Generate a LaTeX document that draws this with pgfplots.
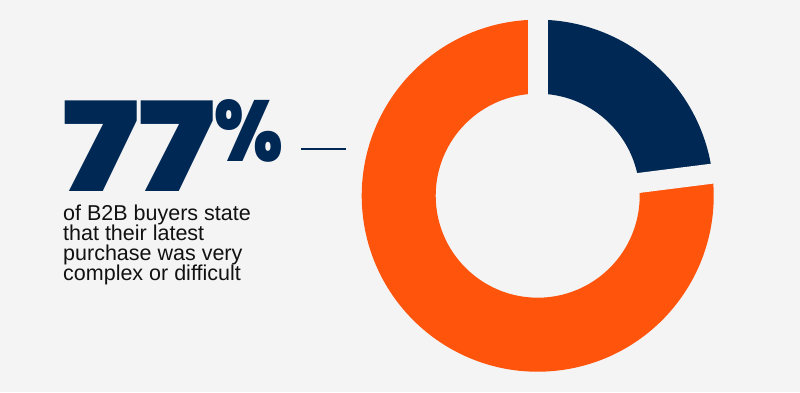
\documentclass[border=0pt]{standalone}
\usepackage{fontspec}
\setmainfont{Liberation Sans}
\newfontfamily\heavy{Poppins Black}
\usepackage{pgfplots}
\pgfplotsset{compat=1.18}
\usepackage{pgfplotstable}
\definecolor{bg}{HTML}{F4F4F4}
\definecolor{navy}{HTML}{002855}
\definecolor{orng}{HTML}{FF540B}
\definecolor{txt}{HTML}{111111}
\pgfplotstableread{
label value
Complex 77
Other 23
}\pietable
\begin{document}%
\begin{tikzpicture}
\pgfplotstablegetelem{0}{value}\of\pietable \let\valA\pgfplotsretval
\pgfplotstablegetelem{1}{value}\of\pietable \let\valB\pgfplotsretval
\pgfmathsetmacro\aB{90-3.6*\valB}
\pgfmathsetmacro\aEnd{\aB-3.6*\valA}
\begin{axis}[width=800pt,height=392pt,scale only axis,
  xmin=0,xmax=800,ymin=0,ymax=392,hide axis,clip=false]
\fill[bg] (axis cs:0,0) rectangle (axis cs:800,392);
\coordinate (C) at (axis cs:537.7,196.3);
% navy slice
\fill[navy] ([shift={(90:176pt)}]C) arc[start angle=90,end angle=\aB,radius=176pt]
  -- ([shift={(\aB:102pt)}]C) arc[start angle=\aB,end angle=90,radius=102pt] -- cycle;
% orange slice
\fill[orng] ([shift={(\aB:176pt)}]C) arc[start angle=\aB,end angle=\aEnd,radius=176pt]
  -- ([shift={(\aEnd:102pt)}]C) arc[start angle=\aEnd,end angle=\aB,radius=102pt] -- cycle;
% gaps
\draw[bg,line width=20pt] (C) -- ([shift={(90:185pt)}]C);
\draw[bg,line width=20pt] (C) -- ([shift={(\aB:185pt)}]C);
% connector
\draw[navy,line width=1.8pt] (axis cs:301,243) -- (axis cs:346,243);
% text
\node[anchor=base west,inner sep=0,text=navy,font=\heavy\fontsize{124}{124}\selectfont] at (axis cs:62,200.3) {\scalebox{1.2}[1]{77}};
\node[anchor=base west,inner sep=0,text=navy,font=\heavy\fontsize{86}{86}\selectfont] at (axis cs:214,230.3) {\scalebox{0.85}[1]{\%}};
\node[anchor=base west,inner sep=0,text=txt,font=\fontsize{21.5}{20}\selectfont] at (axis cs:63,172) {of B2B buyers state};
\node[anchor=base west,inner sep=0,text=txt,font=\fontsize{21.5}{20}\selectfont] at (axis cs:63,151.3) {that their latest};
\node[anchor=base west,inner sep=0,text=txt,font=\fontsize{21.5}{20}\selectfont] at (axis cs:63,131.3) {purchase was very};
\node[anchor=base west,inner sep=0,text=txt,font=\fontsize{21.5}{20}\selectfont] at (axis cs:63,111.3) {complex or difficult};
\end{axis}
\pgfresetboundingbox
\useasboundingbox (current axis.south west) rectangle (current axis.north east);
\end{tikzpicture}%
\end{document}
